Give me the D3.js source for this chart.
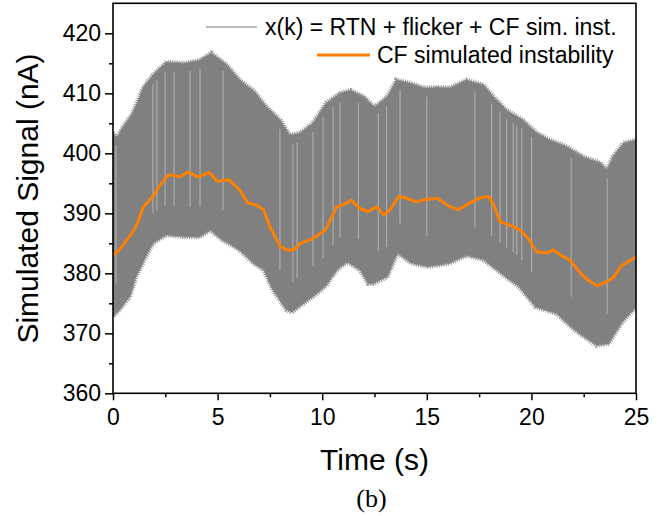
<!DOCTYPE html>
<html>
<head>
<meta charset="utf-8">
<script src="https://cdnjs.cloudflare.com/ajax/libs/d3/7.8.5/d3.min.js"></script>
<style>
  body { margin: 0; background: #fff; }
  text { font-family: "Liberation Sans", Arial, sans-serif; fill: #000; }
</style>
</head>
<body>
<div id="viz"></div>
<script>
// ---- data ----
// upper / lower edge of the dense x(k) band (nA)
var upperT = [0, 0.2, 0.5, 0.95, 1.45, 1.9, 2.55, 3.35, 4.15, 4.7, 5.45, 6.05, 6.7, 7.35, 8.0, 8.45, 8.95, 9.55, 10.2, 10.85, 11.35, 12.0, 12.5, 13.1, 13.55, 14.2, 14.85, 15.5, 16.1, 16.9, 17.7, 18.2, 18.8, 19.6, 20.25, 20.9, 21.7, 22.5, 23.3, 23.6, 23.9, 24.4, 25];
var upperV = [403.4, 402.6, 404.5, 406.7, 411, 413, 415.2, 415, 415.5, 416.7, 414.7, 412.2, 410.5, 407.7, 405.5, 403, 403.4, 405, 408.4, 410, 410.5, 409.4, 407.7, 409.4, 412.2, 411.7, 410.9, 411, 410.9, 412.2, 411.4, 409.4, 407.2, 405.5, 403.4, 402.2, 401.1, 399.4, 398.4, 397.2, 399.4, 401.7, 402.2];

var lowerT = [0, 0.3, 0.8, 1.1, 1.45, 1.9, 2.55, 3.35, 4.15, 4.65, 5.25, 6.05, 6.7, 7.2, 7.65, 8.3, 8.55, 8.95, 9.55, 10.2, 10.7, 11.2, 11.8, 12.2, 12.45, 13.1, 13.6, 14.25, 15.1, 16.1, 16.9, 17.75, 18.55, 19.4, 20.2, 21.2, 22.05, 23.1, 23.7, 24.3, 25];
var lowerV = [372.8, 373.9, 376.1, 379.4, 381.9, 385, 386.4, 386.1, 386.1, 387.2, 385.5, 383.9, 381.7, 380.6, 377.2, 373.9, 373.5, 374.6, 376.1, 378, 380.6, 381.9, 380.6, 378.3, 378.3, 379.4, 383.4, 381.7, 381.1, 381.7, 383, 382.2, 380, 377.8, 374.4, 373.3, 370.6, 368, 368.3, 371.7, 374.4];

// CF simulated instability
var cfT = [0, 0.3, 0.65, 0.95, 1.2, 1.45, 1.75, 1.95, 2.25, 2.65, 2.9, 3.2, 3.6, 3.9, 4.1, 4.6, 5.0, 5.3, 5.55, 6.05, 6.45, 6.85, 7.2, 7.5, 8.0, 8.3, 8.65, 8.95, 9.55, 10.15, 10.7, 11.0, 11.4, 11.8, 12.2, 12.6, 12.95, 13.25, 13.65, 14.05, 14.5, 14.9, 15.5, 16.1, 16.5, 16.9, 17.55, 17.95, 18.2, 18.5, 19.0, 19.45, 19.85, 20.25, 20.75, 21.05, 21.4, 21.85, 22.35, 22.65, 23.15, 23.6, 23.95, 24.25, 24.6, 25];
var cfV = [383.0, 383.9, 385.5, 386.9, 388.6, 391.1, 392.2, 393.0, 394.7, 396.4, 396.3, 396.1, 396.9, 396.3, 396.1, 396.8, 395.3, 395.5, 395.6, 393.9, 391.7, 391.4, 390.6, 387.8, 384.4, 383.9, 383.9, 385.0, 385.8, 387.2, 391.1, 391.4, 392.2, 390.8, 390.3, 391.1, 389.7, 390.6, 392.8, 392.5, 391.9, 392.3, 392.5, 391.1, 390.6, 391.4, 392.6, 392.8, 391.4, 388.6, 388.0, 387.2, 385.8, 383.6, 383.4, 383.9, 383.0, 382.2, 380.0, 379.0, 377.9, 378.6, 379.4, 381.1, 381.9, 382.7];

// light vertical streaks inside the band (s)
var streakT = [0.14, 1.91, 2.1, 2.49, 2.92, 3.68, 4.16, 5.26, 7.98, 8.6, 8.8, 9.56, 10.04, 10.52, 10.85, 11.73, 12.68, 13.08, 13.72, 15.0, 17.3, 18.1, 18.5, 18.82, 19.13, 19.3, 19.54, 20.01, 21.9, 23.62];

var xTicks = [0, 5, 10, 15, 20, 25];
var yTicks = [360, 370, 380, 390, 400, 410, 420];

var width = 672,
    height = 516;

var svg = d3.select("#viz")
    .append("svg")
    .attr("width", width)
    .attr("height", height);

var x = d3.scaleLinear().domain([0, 25]).range([113, 636]);
var y = d3.scaleLinear().domain([360, 425]).range([393.3, 3.3]);

svg.append("clipPath").attr("id", "plot")
  .append("rect")
    .attr("x", 113).attr("y", 3.3)
    .attr("width", 523).attr("height", 390);

function interp(ts, vs, t) {
  var i = d3.bisectRight(ts, t);
  if (i <= 0) return vs[0];
  if (i >= ts.length) return vs[vs.length - 1];
  var f = (t - ts[i - 1]) / (ts[i] - ts[i - 1]);
  return vs[i - 1] + f * (vs[i] - vs[i - 1]);
}

var g = svg.append("g").attr("clip-path", "url(#plot)");

// ****************** gray band ***************************
var pts = upperT.map(function(t, i) { return [x(t), y(upperV[i])]; })
    .concat(lowerT.map(function(t, i) { return [x(t), y(lowerV[i])]; }).reverse());
var bandPath = d3.line()(pts) + "Z";

// fuzzy edge: a thick dashed outline gives the spiky fringe
g.append("path")
    .attr("d", bandPath)
    .attr("fill", "none")
    .attr("stroke", "#9c9c9c")
    .attr("stroke-width", 5)
    .attr("stroke-dasharray", "1 1.3");

g.append("path")
    .attr("d", bandPath)
    .attr("fill", "#808080")
    .attr("stroke", "#858585")
    .attr("stroke-width", 2)
    .attr("stroke-dasharray", "1.2 0.9");

g.selectAll("line.streak")
    .data(streakT)
    .enter().append("line")
      .attr("class", "streak")
      .attr("x1", function(d) { return x(d); })
      .attr("x2", function(d) { return x(d); })
      .attr("y1", function(d) { return y(interp(upperT, upperV, d) - 1.5); })
      .attr("y2", function(d) { return y(interp(lowerT, lowerV, d) + 5); })
      .attr("stroke", "#b4b4b4")
      .attr("stroke-width", 1);

// ****************** CF line ***************************
g.append("path")
    .datum(cfT)
    .attr("d", d3.line()
        .x(function(d) { return x(d); })
        .y(function(d, i) { return y(cfV[i]); }))
    .attr("fill", "none")
    .attr("stroke", "#ff8000")
    .attr("stroke-width", 3)
    .attr("stroke-linejoin", "round");

// ****************** axes ***************************
svg.append("g")
    .attr("transform", "translate(0,393.3)")
    .call(d3.axisBottom(x).tickValues(xTicks).tickSize(7).tickPadding(8).tickFormat(d3.format("d")));
svg.append("g")
    .attr("transform", "translate(0,393.3)")
    .call(d3.axisBottom(x).tickValues([2.5, 7.5, 12.5, 17.5, 22.5]).tickSize(4).tickFormat(""));

svg.append("g")
    .attr("transform", "translate(113,0)")
    .call(d3.axisLeft(y).tickValues(yTicks).tickSize(8).tickPadding(4).tickFormat(d3.format("d")));
svg.append("g")
    .attr("transform", "translate(113,0)")
    .call(d3.axisLeft(y).tickValues([365, 375, 385, 395, 405, 415]).tickSize(4).tickFormat(""));

svg.selectAll(".domain").remove();
svg.selectAll(".tick line").attr("stroke", "#000").attr("stroke-width", 1.5);
svg.selectAll(".tick text")
    .style("font-family", "Liberation Sans, Arial, sans-serif")
    .style("font-size", "23px")
    .attr("fill", "#000");

// frame
svg.append("rect")
    .attr("x", 113).attr("y", 3.3)
    .attr("width", 523).attr("height", 390)
    .attr("fill", "none")
    .attr("stroke", "#000")
    .attr("stroke-width", 1.6);

// ****************** titles ***************************
svg.append("text")
    .attr("x", 374.5).attr("y", 470)
    .attr("text-anchor", "middle")
    .style("font-size", "30px")
    .text("Time (s)");

svg.append("text")
    .attr("transform", "translate(38,198.5) rotate(-90)")
    .attr("text-anchor", "middle")
    .style("font-size", "30px")
    .text("Simulated Signal (nA)");

svg.append("text")
    .attr("x", 371.5).attr("y", 507)
    .attr("text-anchor", "middle")
    .style("font-family", "Liberation Serif, 'Times New Roman', serif")
    .style("font-size", "26px")
    .text("(b)");

// ****************** legend ***************************
svg.append("line")
    .attr("x1", 206).attr("x2", 257).attr("y1", 27).attr("y2", 27)
    .attr("stroke", "#a6a6a6").attr("stroke-width", 1.5);
svg.append("text")
    .attr("x", 265).attr("y", 35)
    .style("font-size", "23px")
    .text("x(k) = RTN + flicker + CF sim. inst.");

svg.append("line")
    .attr("x1", 317).attr("x2", 370).attr("y1", 55).attr("y2", 55)
    .attr("stroke", "#ff8000").attr("stroke-width", 3);
svg.append("text")
    .attr("x", 377).attr("y", 63.3)
    .style("font-size", "23px")
    .text("CF simulated instability");
</script>
</body>
</html>
